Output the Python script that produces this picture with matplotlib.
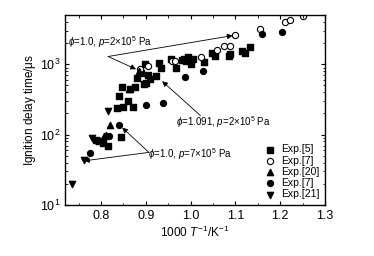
import matplotlib
matplotlib.use("Agg")
import matplotlib.pyplot as plt
from matplotlib.ticker import MultipleLocator

plt.rcParams["font.family"] = ["Liberation Sans", "DejaVu Sans"]
plt.rcParams["mathtext.fontset"] = "custom"
plt.rcParams["mathtext.rm"] = "Liberation Sans"
plt.rcParams["mathtext.it"] = "Liberation Sans:italic"

# Exp.[5] squares
sq_x = [0.788, 0.795, 0.805, 0.815, 0.845, 0.835, 0.840, 0.848, 0.850, 0.860,
        0.865, 0.872, 0.875, 0.880, 0.890, 0.895, 0.898, 0.900, 0.905, 0.910,
        0.922, 0.930, 0.933, 0.956, 0.967, 0.980, 0.985, 0.990, 0.995, 1.000,
        1.005, 1.030, 1.048, 1.055, 1.085, 1.088, 1.115, 1.122, 1.133]
sq_y = [85, 80, 75, 70, 93, 240, 360, 470, 250, 300,
        450, 250, 480, 640, 750, 520, 1000, 550, 700, 620,
        680, 1050, 900, 1200, 900, 1150, 1200, 1100, 1250, 1000,
        1200, 1070, 1450, 1320, 1320, 1420, 1540, 1470, 1770]
# Exp.[7] open circles
oc_x = [0.887, 0.906, 0.959, 0.965, 1.024, 1.058, 1.075, 1.089, 1.100, 1.154,
        1.211, 1.222, 1.252]
oc_y = [850, 950, 1110, 1100, 1290, 1590, 1820, 1820, 2600, 3160,
        3950, 4300, 4790]
# Exp.[20] up triangles
tu_x = [0.806, 0.811, 0.821, 0.863, 0.885]
tu_y = [95, 100, 139, 440, 800]
# Exp.[7] filled circles
fc_x = [0.776, 0.818, 0.841, 0.900, 0.938, 0.988, 1.027, 1.160, 1.203]
fc_y = [55, 97, 136, 260, 285, 650, 800, 2700, 2900]
# Exp.[21] down triangles
td_x = [0.735, 0.763, 0.781, 0.789, 0.815]
td_y = [20, 43, 90, 82, 215]

fig = plt.figure(figsize=(3.74, 2.56), dpi=100)
ax = fig.add_axes([0.174, 0.199, 0.695, 0.742])

ms = 16
ax.scatter(sq_x, sq_y, s=ms, marker="s", c="black", label="Exp.[5]")
ax.scatter(oc_x, oc_y, s=ms + 4, marker="o", facecolors="white",
           edgecolors="black", linewidths=0.8, label="Exp.[7]")
ax.scatter(tu_x, tu_y, s=ms + 4, marker="^", c="black", label="Exp.[20]")
ax.scatter(fc_x, fc_y, s=ms + 2, marker="o", c="black", label="Exp.[7]")
ax.scatter(td_x, td_y, s=ms + 4, marker="v", c="black", label="Exp.[21]")

ax.set_yscale("log")
ax.set_xlim(0.72, 1.3)
ax.set_ylim(10, 5000)
ax.xaxis.set_major_locator(MultipleLocator(0.1))
ax.xaxis.set_minor_locator(MultipleLocator(0.05))
ax.tick_params(which="both", direction="in", top=True, right=True,
               labelsize=9)
ax.tick_params(which="major", length=3)
ax.tick_params(which="minor", length=1.8)
for s in ax.spines.values():
    s.set_linewidth(1.0)

ax.set_xlabel(r"1000 $T^{-1}$/K$^{-1}$", fontsize=8.5, labelpad=2)
ax.set_ylabel(r"Ignition delay time/$\mathrm{\mu}$s", fontsize=8.5,
              labelpad=1)

ax.legend(loc="lower right", frameon=False, fontsize=7.5, handletextpad=0.5,
          labelspacing=0.12, borderaxespad=0.15, handlelength=1.0)

ap = dict(arrowstyle="-|>", color="black", lw=0.6, mutation_scale=8,
          shrinkA=0, shrinkB=2)
fs = 7
# annotation 1
ax.annotate("", xy=(1.100, 2600), xytext=(0.816, 1290), arrowprops=ap)
ax.annotate("", xy=(0.884, 820), xytext=(0.816, 1290), arrowprops=ap)
ax.text(0.726, 2060, r"$\phi$=1.0, $p$=2$\times$10$^5$ Pa", fontsize=fs,
        va="center", ha="left")
# annotation 2
ax.annotate("", xy=(0.932, 611), xytext=(1.022, 187), arrowprops=ap)
ax.text(0.967, 150, r"$\phi$=1.091, $p$=2$\times$10$^5$ Pa", fontsize=fs,
        va="center", ha="left")
# annotation 3
ax.annotate("", xy=(0.843, 134), xytext=(0.907, 56), arrowprops=ap)
ax.annotate("", xy=(0.756, 42), xytext=(0.907, 56), arrowprops=ap)
ax.text(0.904, 53, r"$\phi$=1.0, $p$=7$\times$10$^5$ Pa", fontsize=fs,
        va="center", ha="left")

fig.savefig("out.png", dpi=100)
